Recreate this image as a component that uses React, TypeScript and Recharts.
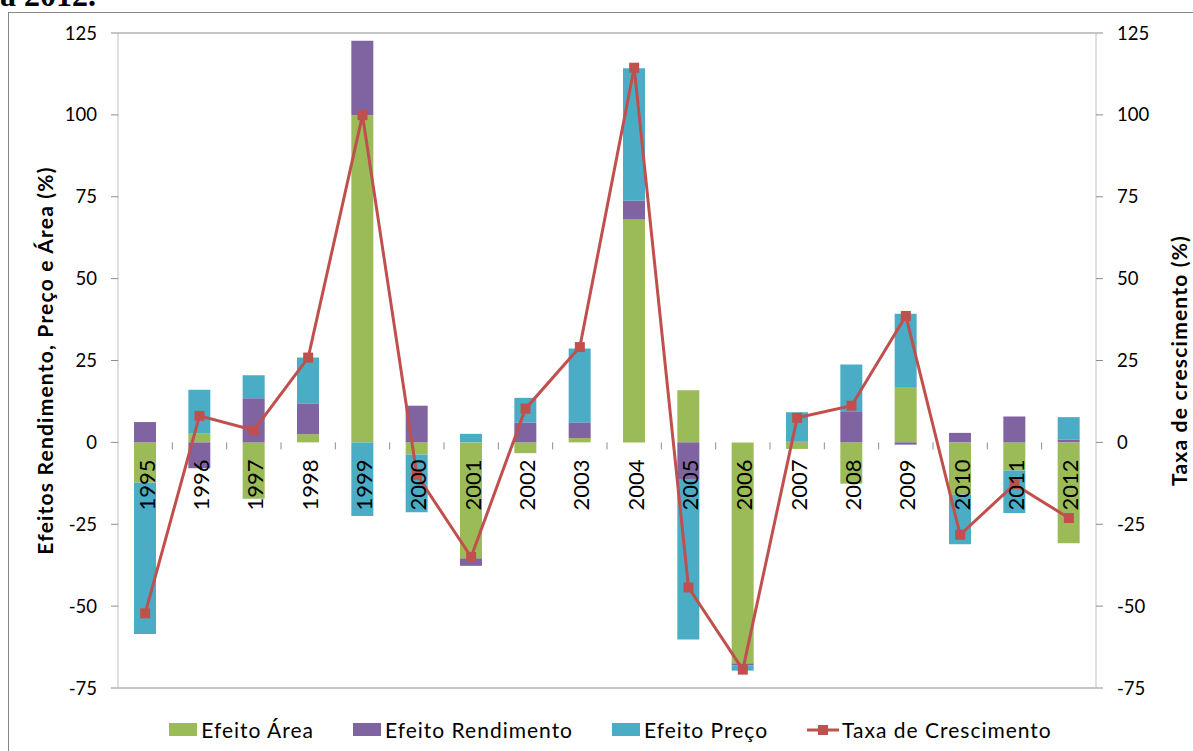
import React from "react";
import {
  ComposedChart,
  Bar,
  Line,
  XAxis,
  YAxis,
  CartesianGrid,
  Legend,
} from "recharts";

const years = [
  "1995", "1996", "1997", "1998", "1999", "2000", "2001", "2002", "2003",
  "2004", "2005", "2006", "2007", "2008", "2009", "2010", "2011", "2012",
];

const efeitoArea = [
  -12.3, 2.6, -17.2, 2.5, 99.9, -3.7, -35.4, -3.3, 1.3, 68.1, 15.9, -67.5,
  -2.0, -12.6, 16.9, -15.9, -8.6, -30.8,
];
const efeitoRendimento = [
  6.2, -7.9, 13.5, 9.4, 22.7, 11.2, -2.3, 6.1, 4.8, 5.7, -11.2, -0.6, 0.2,
  9.3, -0.7, 2.9, 7.9, 0.9,
];
const efeitoPreco = [
  -46.2, 13.5, 7.0, 14.0, -22.5, -17.6, 2.6, 7.5, 22.6, 40.4, -49.0, -1.6,
  9.0, 14.5, 22.4, -15.2, -13.0, 6.8,
];
const taxaCrescimento = [
  -52.2, 8.1, 3.7, 25.9, 99.9, -9.9, -35.0, 10.3, 29.1, 114.4, -44.3, -69.4,
  7.5, 11.2, 38.6, -28.2, -12.8, -23.1,
];

const yTicks = [-75, -50, -25, 0, 25, 50, 75, 100, 125];
const legendOrder = ["Efeito Área", "Efeito Rendimento", "Efeito Preço", "Taxa de Crescimento"];

const data = years.map((year, i) => ({
  year,
  area: efeitoArea[i],
  rendimento: efeitoRendimento[i],
  preco: efeitoPreco[i],
  taxa: taxaCrescimento[i],
}));

const GREEN = "#9BBB59";
const PURPLE = "#8064A2";
const BLUE = "#4BACC6";
const RED = "#C0504D";
const GRID = "#8C8C8C";
const AXIS = "#BFBFBF";

const W = 1193;
const H = 751;
const MARGIN = { top: 33, right: 0, bottom: 62, left: 0 };
const X_H = 1;
const LEFT_W = 118;
const RIGHT_W = 97;
const PLOT_H = H - MARGIN.top - MARGIN.bottom - X_H;
const Y_MIN = -75;
const Y_MAX = 125;
// category axis crosses at zero, like the Excel original
const zeroY = MARGIN.top + (PLOT_H * Y_MAX) / (Y_MAX - Y_MIN);
const band = (W - LEFT_W - RIGHT_W) / years.length;
const FONT = "Lato, 'Open Sans', sans-serif";

function YearTick({ x, payload, index }: any) {
  return (
    <g>
      {index < years.length - 1 && (
        <line
          x1={x + band / 2}
          x2={x + band / 2}
          y1={zeroY}
          y2={zeroY + 7}
          stroke={GRID}
        />
      )}
      <text
        transform={`translate(${x + 1},${zeroY + 17}) rotate(-90)`}
        textAnchor="end"
        dominantBaseline="central"
        fontSize={22}
        fontFamily={FONT}
        fill="#000"
      >
        {payload.value}
      </text>
    </g>
  );
}

function AxisTitle({ viewBox, value, dx }: any) {
  const x = viewBox.x + dx;
  const y = viewBox.y + viewBox.height / 2;
  return (
    <text
      transform={`translate(${x},${y}) rotate(-90)`}
      textAnchor="middle"
      dominantBaseline="central"
      fontSize={21}
      letterSpacing={1.2}
      fontWeight="bold"
      fontFamily={FONT}
      fill="#000"
    >
      {value}
    </text>
  );
}

function Square({ cx, cy, index }: any) {
  return (
    <rect key={`sq-${index}`} x={cx - 5} y={cy - 5} width={10} height={10} fill={RED} />
  );
}

function LegendContent({ payload }: any) {
  const items = [...(payload || [])].sort(
    (a: any, b: any) => legendOrder.indexOf(a.value) - legendOrder.indexOf(b.value)
  );
  return (
    <div
      style={{
        display: "flex",
        justifyContent: "center",
        gap: 39,
        fontFamily: FONT,
        fontSize: 21,
        color: "#000",
        letterSpacing: 1,
      }}
    >
      {items.map((entry: any) => (
        <div key={entry.value} style={{ display: "flex", alignItems: "center" }}>
          {entry.type === "line" ? (
            <svg width={32} height={14} style={{ marginRight: 3 }}>
              <line x1={0} x2={32} y1={7} y2={7} stroke={RED} strokeWidth={3} />
              <rect x={11} y={2} width={10} height={10} fill={RED} />
            </svg>
          ) : (
            <span
              style={{
                display: "inline-block",
                width: 28,
                height: 13,
                background: entry.color,
                marginRight: 4,
              }}
            />
          )}
          <span>{entry.value}</span>
        </div>
      ))}
    </div>
  );
}

export default function App() {
  return (
    <div
      style={{
        position: "absolute",
        left: 0,
        top: 0,
        width: W,
        height: H,
        overflow: "hidden",
        background: "#fff",
        fontFamily: FONT,
      }}
    >
      <div
        style={{
          position: "absolute",
          left: 0,
          top: -21,
          fontFamily: "'Liberation Serif', 'Times New Roman', serif",
          fontWeight: "bold",
          fontSize: 32,
          lineHeight: "32px",
          whiteSpace: "nowrap",
        }}
      >
        a 2012.
      </div>
      <div
        style={{
          position: "absolute",
          left: 8,
          top: 12,
          width: 1240,
          height: 800,
          border: "1px solid #868686",
        }}
      />
      <div style={{ position: "absolute", left: 0, top: 0 }}>
        <ComposedChart
          width={W}
          height={H}
          data={data}
          margin={MARGIN}
          stackOffset="sign"
        >
          <CartesianGrid vertical={false} stroke={GRID} />
          <YAxis
            yAxisId="left"
            orientation="left"
            width={LEFT_W}
            domain={[Y_MIN, Y_MAX]}
            ticks={yTicks}
            interval={0}
            axisLine={{ stroke: AXIS }}
            tickLine={{ stroke: GRID }}
            tickSize={7}
            tickMargin={14}
            tick={{ fill: "#000", fontSize: 18.5, fontFamily: FONT }}
            label={<AxisTitle value="Efeitos Rendimento, Preço e Área (%)" dx={44} />}
          />
          <YAxis
            yAxisId="right"
            orientation="right"
            width={RIGHT_W}
            domain={[Y_MIN, Y_MAX]}
            ticks={yTicks}
            interval={0}
            axisLine={{ stroke: AXIS }}
            tickLine={{ stroke: GRID }}
            tickSize={7}
            tickMargin={14}
            tick={{ fill: "#000", fontSize: 18.5, fontFamily: FONT, textAnchor: "start" }}
            label={<AxisTitle value="Taxa de crescimento (%)" dx={82} />}
          />
          <Bar
            yAxisId="left"
            dataKey="area"
            name="Efeito Área"
            stackId="a"
            fill={GREEN}
            barSize={22}
            isAnimationActive={false}
          />
          <Bar
            yAxisId="left"
            dataKey="rendimento"
            name="Efeito Rendimento"
            stackId="a"
            fill={PURPLE}
            barSize={22}
            isAnimationActive={false}
          />
          <Bar
            yAxisId="left"
            dataKey="preco"
            name="Efeito Preço"
            stackId="a"
            fill={BLUE}
            barSize={22}
            isAnimationActive={false}
          />
          <Line
            yAxisId="right"
            dataKey="taxa"
            name="Taxa de Crescimento"
            type="linear"
            stroke={RED}
            strokeWidth={3}
            dot={<Square />}
            activeDot={false}
            isAnimationActive={false}
          />
          <XAxis
            dataKey="year"
            height={X_H}
            axisLine={false}
            tickLine={false}
            interval={0}
            tick={<YearTick />}
          />
          <Legend
            layout="horizontal"
            verticalAlign="middle"
            align="center"
            content={<LegendContent />}
            wrapperStyle={{ top: 717, left: 14, width: W }}
          />
        </ComposedChart>
      </div>
    </div>
  );
}
